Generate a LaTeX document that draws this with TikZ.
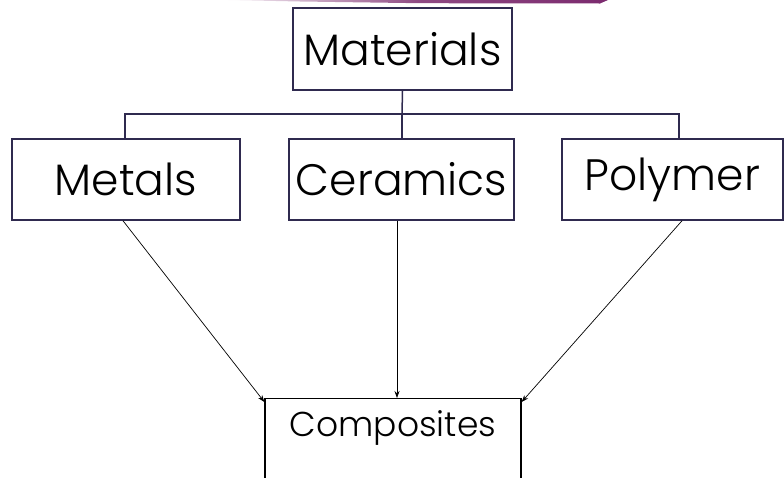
\documentclass[tikz,border=0pt]{standalone}
\usepackage{fontspec}
\setmainfont{Poppins Light}
\usetikzlibrary{arrows.meta}
\definecolor{navy}{HTML}{2F2A4F}
\definecolor{barpurple}{HTML}{7B2A6E}
\tikzset{
  box/.style={draw=navy, line width=1.5pt, inner sep=0pt, font=\fontsize{44}{50}\selectfont},
  tree/.style={draw=navy, line width=1.5pt},
  arr/.style={draw=black, line width=0.7pt, -{Stealth[length=7pt,width=5pt]}}
}
\begin{document}
\begin{tikzpicture}[x=1pt, y=-1pt]
\useasboundingbox (0,0) rectangle (784,477);
\clip (0,0) rectangle (784,477);
% top purple bar
\shade[left color=barpurple!5, right color=barpurple, middle color=barpurple!85]
  (228,0) -- (608,0) -- (600,3.5) -- (420,3.2) -- (300,1.5) -- cycle;
% nodes
\node[box, minimum width=219pt, minimum height=82pt] (mat) at (402.5,49) {Materials};
\node[box, minimum width=228pt, minimum height=81pt] (met) at (126,179.5) {Metals};
\node[box, minimum width=225pt, minimum height=81pt] (cer) at (401.5,179.5) {Ceramics};
\node[box, minimum width=221pt, minimum height=81pt] (pol) at (672.5,179.5) {Polymer};
\node[box, draw=black, line width=1.2pt, minimum width=256pt, inner ysep=12pt, text depth=90pt, anchor=north,
      font=\fontsize{34.5}{38}\selectfont] (comp) at (393,398) {Composites};
% tree connectors
\coordinate (j) at (402,114);
\draw[tree] (mat.south) -- (j);
\draw[tree] ([xshift=-1pt]met.north) |- (j) -| ([xshift=6.5pt]pol.north);
\draw[tree] (j) -- ([xshift=0.5pt]cer.north);
% arrows
\draw[arr] ([xshift=-3pt]met.south) -- ([yshift=-4pt]comp.north west);
\draw[arr] ([xshift=-4.5pt]cer.south) -- ([xshift=4pt]comp.north);
\draw[arr] ([xshift=9.5pt]pol.south) -- ([yshift=-4pt]comp.north east);
\end{tikzpicture}
\end{document}
